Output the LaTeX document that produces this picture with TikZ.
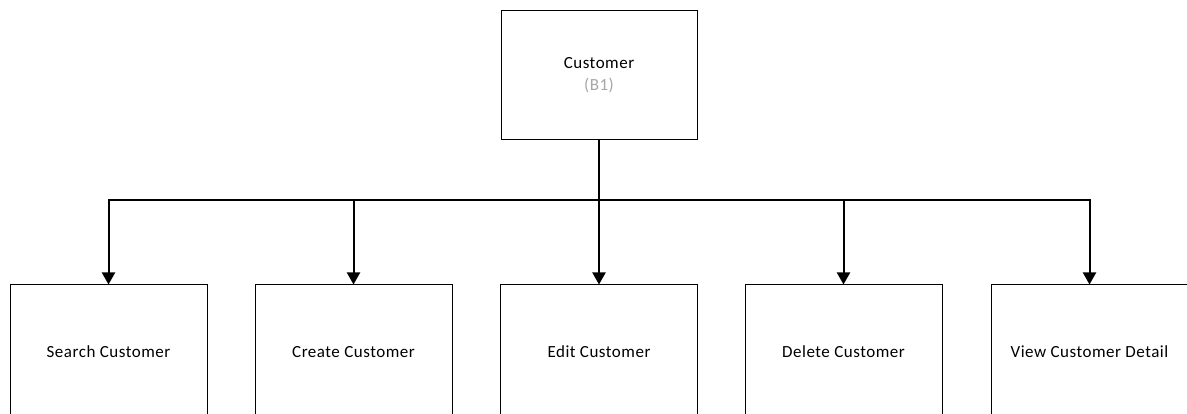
\documentclass[tikz,border=0pt]{standalone}
\usepackage{fontspec}
\setmainfont{Carlito}[LetterSpace=3]
\usetikzlibrary{arrows.meta}
\definecolor{codegray}{HTML}{A6A6A6}
\tikzset{
  box/.style={draw=black, line width=1pt, fill=white, minimum width=197pt,
    inner sep=0pt, align=center, font=\fontsize{17}{21.5}\selectfont},
  topbox/.style={box, minimum width=196pt, minimum height=128.5pt},
  leafbox/.style={box, minimum height=134pt},
  conn/.style={draw=black, line width=2pt,
    -{Triangle[length=12pt,width=13pt]}}
}
\begin{document}
\begin{tikzpicture}[x=1pt,y=-1pt]
  \useasboundingbox[fill=white] (0,0) rectangle (1187,414);
  \clip (0,0) rectangle (1187,414);
  % root of the hierarchy
  \node[topbox] (root) at (599,75) {Customer\\[1pt]{\color{codegray}(B1)}};
  % children
  \node[leafbox] (search) at (108.5,352) {Search Customer};
  \node[leafbox] (create) at (353.5,352) {Create Customer};
  \node[leafbox] (edit)   at (599,352)   {Edit Customer};
  \node[leafbox] (delete) at (843.5,352) {Delete Customer};
  \node[leafbox] (view)   at (1089.5,352) {View Customer Detail};
  % common bus under the root
  \coordinate (bus) at (599,200);
  \draw[line width=2pt] (root.south) -- (bus);
  \foreach \c in {search,create,edit,delete,view}
    \draw[conn] (bus) -| (\c.north);
\end{tikzpicture}
\end{document}
